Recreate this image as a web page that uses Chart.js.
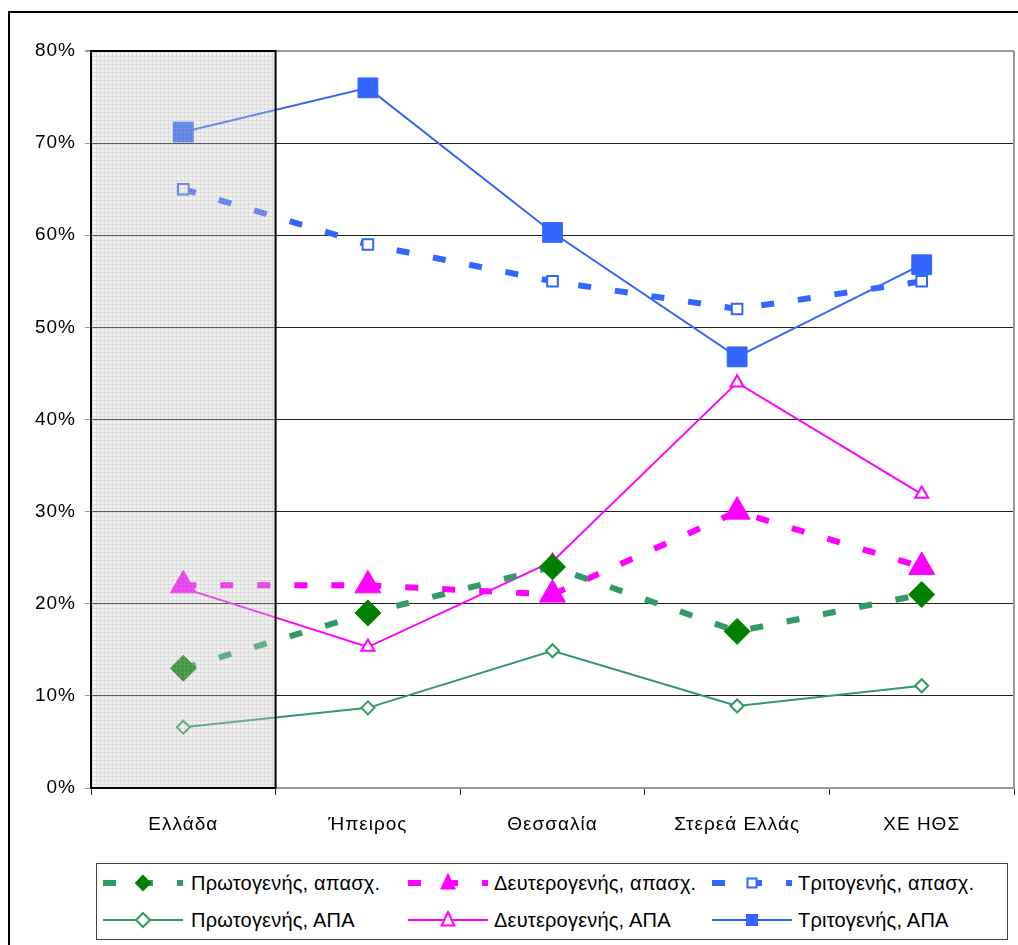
<!DOCTYPE html>
<html>
<head>
<meta charset="utf-8">
<script src="https://cdn.jsdelivr.net/npm/chart.js@4"></script>
<style>
    body { margin: 0; width: 1018px; height: 945px; overflow: hidden; background: #fff; position: relative; font-family: "Liberation Sans", Arial, sans-serif; }
    #frame { position: absolute; left: 8px; top: 11px; right: -20px; bottom: -20px; border: 2px solid #000; }
    #wrap { position: absolute; left: 0; top: 0; width: 1018px; height: 945px; }
    #legend { position: absolute; left: 96px; top: 863px; width: 912px; height: 77px; border: 1.5px solid #444; box-sizing: border-box; background: #fff; }
    .item { position: absolute; height: 20px; font-size: 20px; letter-spacing: 0.2px; color: #000; white-space: nowrap; }
    .item svg { position: absolute; left: 0; top: 0; }
    .item span { position: absolute; top: 0; line-height: 20px; }
</style>
</head>
<body>
<div id="frame"></div>
<div id="wrap"><canvas id="grafico" width="1018" height="945"></canvas></div>
<div id="legend"></div>
<script>
const categories = ['Ελλάδα', 'Ήπειρος', 'Θεσσαλία', 'Στερεά Ελλάς', 'ΧΕ ΗΘΣ']
const primaryEmp = [13, 19, 24, 17, 21]
const secondaryEmp = [22, 22, 21, 30, 24]
const tertiaryEmp = [65, 59, 55, 52, 55]
const primaryGva = [6.6, 8.7, 14.9, 8.9, 11.1]
const secondaryGva = [21.7, 15.3, 24.6, 44.0, 31.9]
const tertiaryGva = [71.2, 76.0, 60.3, 46.8, 56.8]
const seriesNames = ['Πρωτογενής, απασχ.', 'Δευτερογενής, απασχ.', 'Τριτογενής, απασχ.',
    'Πρωτογενής, ΑΠΑ', 'Δευτερογενής, ΑΠΑ', 'Τριτογενής, ΑΠΑ']

const green = '#339966'
const darkGreen = '#008000'
const magenta = '#ff00ff'
const blue = '#3366ff'
const dash = [13, 24]

// pattern for the Ελλάδα column
const pat = document.createElement('canvas')
pat.width = 4
pat.height = 4
const pctx = pat.getContext('2d')
pctx.fillStyle = 'rgba(205,205,205,0.3)'
pctx.fillRect(0, 0, 4, 4)
pctx.fillStyle = 'rgba(170,170,170,0.28)'
pctx.fillRect(0, 0, 4, 1)
pctx.fillRect(0, 1, 1, 3)

const shadePlugin = {
    id: 'shade',
    beforeDraw(chart) {
        chart.ctx.letterSpacing = '1px'
    },
    afterDatasetsDraw(chart) {
        const c = chart.ctx
        const area = chart.chartArea
        const x = chart.scales.x
        const half = (x.getPixelForValue(1) - x.getPixelForValue(0)) / 2
        const right = x.getPixelForValue(0) + half
        c.save()
        c.fillStyle = c.createPattern(pat, 'repeat')
        c.fillRect(area.left, area.top, right - area.left, area.bottom - area.top)
        c.strokeStyle = '#000'
        c.lineWidth = 2
        c.strokeRect(area.left, area.top, right - area.left, area.bottom - area.top)
        // right border of plot
        c.strokeStyle = '#999'
        c.beginPath()
        c.moveTo(area.right, area.top)
        c.lineTo(area.right, area.bottom)
        c.stroke()
        c.restore()
    }
}

Chart.defaults.font.family = '"Liberation Sans", Arial, sans-serif'
Chart.defaults.color = '#000'

const ctx = document.getElementById('grafico')
let grafico = new Chart(ctx, {
    type: 'line',
    data: {
        labels: categories,
        datasets: [{
            label: seriesNames[0],
            data: primaryEmp,
            borderColor: green,
            borderWidth: 6,
            borderDash: dash,
            pointStyle: 'rectRot',
            pointRadius: 13,
            pointBackgroundColor: darkGreen,
            pointBorderColor: darkGreen,
            pointBorderWidth: 1
        }, {
            label: seriesNames[1],
            data: secondaryEmp,
            borderColor: magenta,
            borderWidth: 6,
            borderDash: dash,
            pointStyle: 'triangle',
            pointRadius: 15,
            pointBackgroundColor: magenta,
            pointBorderColor: magenta,
            pointBorderWidth: 1
        }, {
            label: seriesNames[2],
            data: tertiaryEmp,
            borderColor: blue,
            borderWidth: 6,
            borderDash: dash,
            pointStyle: 'rect',
            pointRadius: 7.5,
            pointBackgroundColor: '#fff',
            pointBorderColor: blue,
            pointBorderWidth: 2
        }, {
            label: seriesNames[3],
            data: primaryGva,
            borderColor: green,
            borderWidth: 2,
            pointStyle: 'rectRot',
            pointRadius: 6.5,
            pointBackgroundColor: '#fff',
            pointBorderColor: green,
            pointBorderWidth: 2
        }, {
            label: seriesNames[4],
            data: secondaryGva,
            borderColor: magenta,
            borderWidth: 2,
            pointStyle: 'triangle',
            pointRadius: 7.5,
            pointBackgroundColor: '#fff',
            pointBorderColor: magenta,
            pointBorderWidth: 2
        }, {
            label: seriesNames[5],
            data: tertiaryGva,
            borderColor: blue,
            borderWidth: 2,
            pointStyle: 'rect',
            pointRadius: 14,
            pointBackgroundColor: blue,
            pointBorderColor: blue,
            pointBorderWidth: 1
        }]
    },
    options: {
        responsive: false,
        animation: false,
        layout: { autoPadding: false, padding: { left: 0, top: 51, right: 4, bottom: 97 } },
        plugins: {
            legend: { display: false },
            tooltip: { enabled: false }
        },
        scales: {
            x: {
                offset: true,
                afterFit: (s) => { s.height = 60 },
                border: { color: '#999', width: 2 },
                grid: { offset: true, drawOnChartArea: false, tickLength: 7, tickColor: '#333' },
                ticks: { font: { size: 19 }, padding: 18 }
            },
            y: {
                min: 0,
                max: 80,
                afterFit: (s) => { s.width = 91 },
                border: { color: '#999', width: 2 },
                grid: {
                    color: (c) => c.tick && c.tick.value === 80 ? '#999' : '#222',
                    lineWidth: (c) => c.tick && c.tick.value === 80 ? 2 : 1,
                    tickLength: 6,
                    tickColor: '#999'
                },
                ticks: {
                    stepSize: 10,
                    font: { size: 19 },
                    padding: 9,
                    callback: (v) => v + '%'
                }
            }
        }
    },
    plugins: [shadePlugin]
})

// legend
const legendItems = [
    { x: 6, y: 9, color: green, dashed: true, marker: 'diamond', fill: darkGreen, size: 7, tx: 94 },
    { x: 311, y: 9, color: magenta, dashed: true, marker: 'triangle', fill: magenta, size: 8, tx: 397 },
    { x: 615, y: 9, color: blue, dashed: true, marker: 'square', fill: '#fff', size: 4.5, tx: 701 },
    { x: 6, y: 46, color: green, dashed: false, marker: 'diamond', fill: '#fff', size: 7, tx: 94 },
    { x: 311, y: 46, color: magenta, dashed: false, marker: 'triangle', fill: '#fff', size: 8, tx: 397 },
    { x: 615, y: 46, color: blue, dashed: false, marker: 'square', fill: blue, size: 5, tx: 701 }
]

function markerSvg(it) {
    const cx = 40, cy = 10, s = it.size
    const stroke = it.marker === 'diamond' && it.dashed ? it.fill : it.color
    if (it.marker === 'diamond') {
        return `<polygon points="${cx},${cy - s} ${cx + s},${cy} ${cx},${cy + s} ${cx - s},${cy}" fill="${it.fill}" stroke="${stroke}" stroke-width="2"/>`
    }
    if (it.marker === 'triangle') {
        return `<polygon points="${cx},${cy - s} ${cx + s * 0.8},${cy + s * 0.7} ${cx - s * 0.8},${cy + s * 0.7}" fill="${it.fill}" stroke="${it.color}" stroke-width="2"/>`
    }
    return `<rect x="${cx - s}" y="${cy - s}" width="${2 * s}" height="${2 * s}" fill="${it.fill}" stroke="${it.color}" stroke-width="2"/>`
}

const legend = document.getElementById('legend')
legendItems.forEach((it, i) => {
    const div = document.createElement('div')
    div.className = 'item'
    div.style.left = it.x + 'px'
    div.style.top = it.y + 'px'
    const line = it.dashed
        ? `<line x1="0" y1="10" x2="80" y2="10" stroke="${it.color}" stroke-width="6" stroke-dasharray="13 24"/>`
        : `<line x1="0" y1="10" x2="80" y2="10" stroke="${it.color}" stroke-width="2"/>`
    div.innerHTML = `<svg width="82" height="20">${line}${markerSvg(it)}</svg><span style="left:${it.tx - it.x}px">${seriesNames[i]}</span>`
    legend.appendChild(div)
})
</script>
</body>
</html>
